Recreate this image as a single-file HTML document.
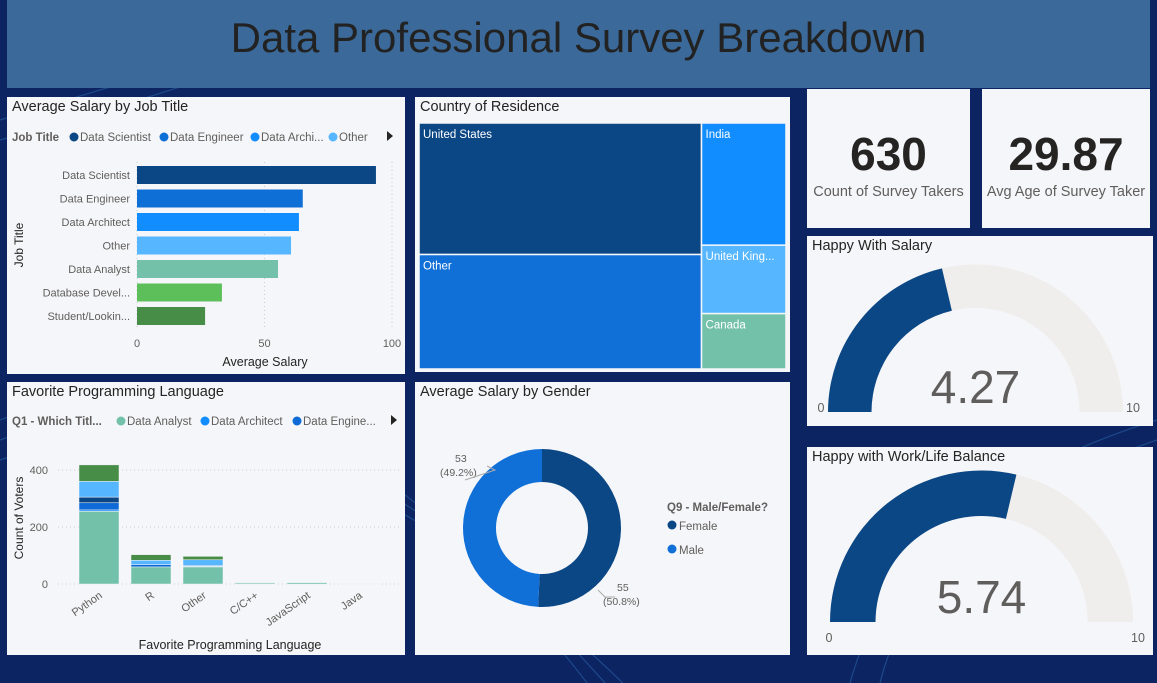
<!DOCTYPE html>
<html><head><meta charset="utf-8"><style>
body{margin:0;width:1157px;height:683px;overflow:hidden;background:#0c2462;font-family:"Liberation Sans",sans-serif;position:relative}
.p{position:absolute;background:#f5f6f9}
.t{position:absolute;font-size:14.5px;color:#252423;left:5px;top:2px}
svg text{font-family:"Liberation Sans",sans-serif}
</style></head><body>
<svg width="1157" height="683" style="position:absolute;left:0;top:0">
<g fill="none" stroke="#3d8fd6" stroke-opacity="0.35" stroke-width="1.2">
<path d="M0 420 Q300 300 600 700"/><path d="M0 440 Q300 330 620 700"/><path d="M0 460 Q300 360 640 700"/>
<path d="M1157 420 Q900 500 850 683"/><path d="M1157 440 Q920 520 880 683"/><path d="M0 120 Q200 60 400 0"/><path d="M0 140 Q220 80 430 0"/>
</g></svg>
<div class="p" style="left:7px;top:0;width:1143px;height:88px;background:#3b6a9a">
<div style="text-align:center;font-size:42px;color:#222;line-height:76px">Data Professional Survey Breakdown</div></div>

<div class="p" style="left:7px;top:97px;width:398px;height:277px">
<div class="t">Average Salary by Job Title</div></div>
<div class="p" style="left:415px;top:97px;width:375px;height:275px">
<div class="t">Country of Residence</div></div>
<div class="p" style="left:7px;top:382px;width:398px;height:273px">
<div class="t">Favorite Programming Language</div></div>
<div class="p" style="left:415px;top:382px;width:375px;height:273px">
<div class="t">Average Salary by Gender</div></div>
<div class="p" style="left:807px;top:89px;width:163px;height:139px">
<div style="position:absolute;top:38px;width:100%;text-align:center;font-size:46px;font-weight:bold;color:#252423">630</div>
<div style="position:absolute;top:95px;width:100%;text-align:center;font-size:14.5px;color:#605e5c">Count of Survey Takers</div></div>
<div class="p" style="left:982px;top:89px;width:168px;height:139px">
<div style="position:absolute;top:38px;width:100%;text-align:center;font-size:46px;font-weight:bold;color:#252423">29.87</div>
<div style="position:absolute;top:95px;width:100%;text-align:center;font-size:14.5px;color:#605e5c">Avg Age of Survey Taker</div></div>
<div class="p" style="left:807px;top:236px;width:346px;height:190px">
<div class="t">Happy With Salary</div></div>
<div class="p" style="left:807px;top:447px;width:346px;height:208px">
<div class="t">Happy with Work/Life Balance</div></div>

<svg id="c" width="1157" height="683" style="position:absolute;left:0;top:0"></svg>
<script>
const jobCats=["Data Scientist","Data Engineer","Data Architect","Other","Data Analyst","Database Devel...","Student/Lookin..."];
const jobSalary=[93.7,65,63.5,60.4,55.3,33.3,26.7];
const jobTicks=[0,50,100];
const langCats=["Python","R","Other","C/C++","JavaScript","Java"];
const seriesNames=["Data Analyst","Data Architect","Data Engineer","Data Scientist","Other","Database Developer","Student"];
const sAnalyst=[255,60,60,4,5,1];
const sArchitect=[5,0,2,0,0,0];
const sEngineer=[25,8,3,0,0,0];
const sScientist=[20,0,0,0,0,0];
const sOther=[55,15,20,2,2,1];
const sDbDev=[0,0,0,0,0,0];
const sStudent=[58,20,12,1,1,0];
const langTicks=[0,200,400];
const countries=["United States","Other","India","United Kingdom","Canada"];
const countryVals=[270,235,75,42,34];
const genders=["Female","Male"];
const genderVals=[54.7,53.0];
const gaugeVals=[4.27,5.74];

const C=["#73c1a8","#118dff","#0e6ad6","#0b4785","#56b6ff","#5cbf5a","#478c47"];
const jobColors=["#0b4785","#0e6fd6","#118dff","#56b6ff","#73c1a8","#5cbf5a","#478c47"];
const svg=document.getElementById('c');const NS="http://www.w3.org/2000/svg";
function el(t,a,txt){const e=document.createElementNS(NS,t);for(const k in a)e.setAttribute(k,a[k]);if(txt!==undefined)e.textContent=txt;svg.appendChild(e);return e;}

// Job bar chart
const bx=v=>137+v*2.55;
jobTicks.forEach(t=>{const g=el('line',{x1:bx(t),x2:bx(t),y1:162,y2:330,stroke:'#ccc','stroke-dasharray':'1 3'});


const l=el('text',{x:bx(t),y:347,'text-anchor':'middle','font-size':11,fill:'#605e5c'},t);

});
jobCats.forEach((c,i)=>{const y=166+i*23.5;
const r=el('rect',{x:bx(0),y:y,width:bx(jobSalary[i])-bx(0),height:18,fill:jobColors[i]});


const l=el('text',{x:130,y:y+13,'text-anchor':'end','font-size':11,fill:'#605e5c'},c);

});
let e;
e=el('text',{x:265,y:366,'text-anchor':'middle','font-size':12.5,fill:'#252423'},'Average Salary');
e=el('text',{x:0,y:0,'text-anchor':'middle','font-size':12,fill:'#252423',transform:'translate(23,245) rotate(-90)'},'Job Title');
e=el('text',{x:12,y:141,'font-size':11.5,'font-weight':'bold',fill:'#605e5c'},'Job Title');
[["Data Scientist",74],["Data Engineer",164],["Data Archi...",255],["Other",333]].forEach((p,i)=>{
const d=el('circle',{cx:p[1],cy:137,r:4.5,fill:jobColors[i]});
const t=el('text',{x:p[1]+6,y:141,'font-size':11.5,fill:'#605e5c'},p[0]);});
e=el('path',{d:'M387 131 L393 136 L387 141Z',fill:'#252423'});

// Language stacked chart
const ly=v=>584-v*0.285;
langTicks.forEach(t=>{const g=el('line',{x1:58,x2:400,y1:ly(t),y2:ly(t),stroke:'#ccc','stroke-dasharray':'1 3'});


const l=el('text',{x:48,y:ly(t)+4,'text-anchor':'end','font-size':11,fill:'#605e5c'},t);

});
const stacks=[sAnalyst,sArchitect,sEngineer,sScientist,sOther,sDbDev,sStudent];
langCats.forEach((c,i)=>{const x=79+i*52;let acc=0;
stacks.forEach((s,k)=>{if(s[i]>0){const r=el('rect',{x:x,y:ly(acc+s[i]),width:40,height:ly(acc)-ly(acc+s[i]),fill:C[k],stroke:'#f5f6f9','stroke-width':0.5});

}acc+=s[i];});
const l=el('text',{x:0,y:0,'text-anchor':'end','font-size':11,fill:'#605e5c',transform:`translate(${x+24},${597}) rotate(-35)`},c);

});
e=el('text',{x:230,y:649,'text-anchor':'middle','font-size':12.5,fill:'#252423'},'Favorite Programming Language');
e=el('text',{x:0,y:0,'text-anchor':'middle','font-size':12,fill:'#252423',transform:'translate(23,518) rotate(-90)'},'Count of Voters');
e=el('text',{x:12,y:425,'font-size':11.5,'font-weight':'bold',fill:'#605e5c'},'Q1 - Which Titl...');
[["Data Analyst",121],["Data Architect",205],["Data Engine...",297]].forEach((p,i)=>{
const d=el('circle',{cx:p[1],cy:421,r:4.5,fill:[C[0],C[1],C[2]][i]});
const t=el('text',{x:p[1]+6,y:425,'font-size':11.5,fill:'#605e5c'},p[0]);});
e=el('path',{d:'M391 415 L397 420 L391 425Z',fill:'#252423'});

// Treemap
const tot=countryVals.reduce((a,b)=>a+b,0);const X0=419,Y0=123,W=367,H=246;
const leftW=W*(countryVals[0]+countryVals[1])/tot;
const tcol=["#0b4785","#1170d8","#118dff","#56b6ff","#73c1a8"];
function tile(i,x,y,w,h,label){const r=el('rect',{x:x,y:y,width:w,height:h,fill:tcol[i],stroke:'#f5f6f9','stroke-width':1.5});


const t=el('text',{x:x+4,y:y+15,'font-size':11.5,fill:'#fff'},label);

}
const h0=H*countryVals[0]/(countryVals[0]+countryVals[1]);
tile(0,X0,Y0,leftW,h0,countries[0]);tile(1,X0,Y0+h0,leftW,H-h0,countries[1]);
const rs=countryVals[2]+countryVals[3]+countryVals[4];let yy=Y0;
[2,3,4].forEach(i=>{const h=H*countryVals[i]/rs;tile(i,X0+leftW,yy,W-leftW,h,i==3?'United King...':countries[i]);yy+=h;});

// Donut
const cx=542,cy=528,R=79,r0=46;const gt=genderVals[0]+genderVals[1];const gc=["#0b4785","#1170d8"];
let a=-Math.PI/2;
genderVals.forEach((v,i)=>{const b=a+2*Math.PI*v/gt;const lg=(b-a)>Math.PI?1:0;
const p=`M${cx+R*Math.cos(a)} ${cy+R*Math.sin(a)} A${R} ${R} 0 ${lg} 1 ${cx+R*Math.cos(b)} ${cy+R*Math.sin(b)} L${cx+r0*Math.cos(b)} ${cy+r0*Math.sin(b)} A${r0} ${r0} 0 ${lg} 0 ${cx+r0*Math.cos(a)} ${cy+r0*Math.sin(a)}Z`;
const s=el('path',{d:p,fill:gc[i]});
a=b;});
e=el('text',{x:455,y:462,'font-size':10.5,fill:'#605e5c'},Math.round(genderVals[1]));
e=el('text',{x:440,y:476,'font-size':10.5,fill:'#605e5c'},'('+(100*genderVals[1]/gt).toFixed(1)+'%)');
e=el('text',{x:617,y:591,'font-size':10.5,fill:'#605e5c'},Math.round(genderVals[0]));
e=el('text',{x:603,y:605,'font-size':10.5,fill:'#605e5c'},'('+(100*genderVals[0]/gt).toFixed(1)+'%)');
el('path',{d:'M487 466 L495 470 L465 480',fill:'none',stroke:'#aaa'});el('path',{d:'M598 590 L605 597 L615 597',fill:'none',stroke:'#aaa'});
e=el('text',{x:667,y:511,'font-size':11.5,'font-weight':'bold',fill:'#605e5c'},'Q9 - Male/Female?');
genders.forEach((g,i)=>{const d=el('circle',{cx:672,cy:525+i*24,r:4.5,fill:gc[i]});
const t=el('text',{x:679,y:530+i*24,'font-size':11.5,fill:'#605e5c'},g);});

// Gauges
const G=[[975.5,412,147.5,104],[981.5,622,151.5,106]];
function arc(c,x,y,R,r,f0,f1,fill,name){const a0=Math.PI*(1+f0),a1=Math.PI*(1+f1);
const p=`M${x+R*Math.cos(a0)} ${y+R*Math.sin(a0)} A${R} ${R} 0 0 1 ${x+R*Math.cos(a1)} ${y+R*Math.sin(a1)} L${x+r*Math.cos(a1)} ${y+r*Math.sin(a1)} A${r} ${r} 0 0 0 ${x+r*Math.cos(a0)} ${y+r*Math.sin(a0)}Z`;
const s=el('path',{d:p,fill:fill});}
gaugeVals.forEach((v,i)=>{const [x,y,R,r]=G[i];
arc(i,x,y,R,r,0,1,'#f0eeec','gauge-track');
arc(i,x,y,R,r,0,v/10,'#0b4785','gauge-fill');
const t=el('text',{x:x,y:y-9,'text-anchor':'middle','font-size':46,fill:'#605e5c'},v.toFixed(2));


const m0=el('text',{x:x-R-7+(i?6:0),y:y+(i?20:0),'text-anchor':'middle','font-size':12.5,fill:'#605e5c'},'0');


const m1=el('text',{x:x+R+10-(i?5:0),y:y+(i?20:0),'text-anchor':'middle','font-size':12.5,fill:'#605e5c'},'10');

});
</script>
</body></html>
